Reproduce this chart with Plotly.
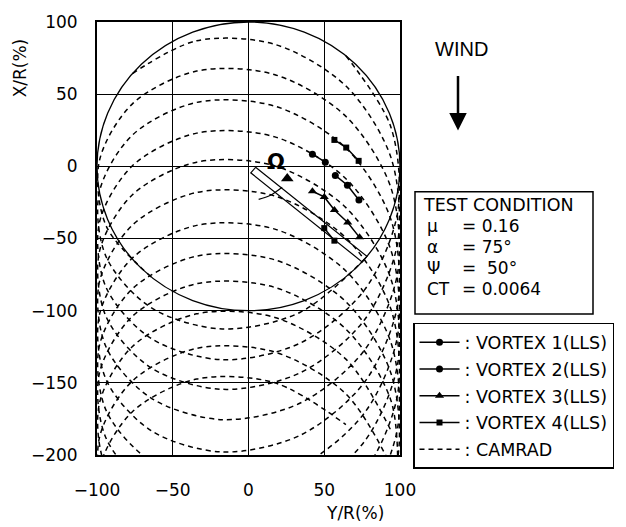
import plotly.graph_objects as go

# ---------------- data ----------------
TICKS_X = [-100, -50, 0, 50, 100]
TICKS_Y = [-200, -150, -100, -50, 0, 50, 100]
DISK_R = 100

# LLS measured vortex positions (Y/R %, X/R %)
v1_y = [42.2, 50.7]
v1_x = [8.4, 2.9]
v2_y = [57.3, 65.3, 72.9]
v2_x = [-6.3, -13.1, -23.3]
v3_y = [42.2, 50.0, 56.7, 65.5, 73.3]
v3_x = [-17.3, -21.2, -30.3, -38.9, -49.2]
v4_y = [56.7, 64.5, 72.7]
v4_x = [18.3, 13.0, 3.8]
v4b_y = [50.0, 56.7]
v4b_x = [-42.8, -51.5]

# CAMRAD tip-vortex traces, one per blade (Y/R %, X/R %)
camA_y = [76.6, 34.2, -17.4, -64.3, -94.0, -98.5, -76.6, -34.2, 17.4, 64.3, 94.0, 98.5,
          76.6, 34.2, -17.4, -64.3, -94.0, -98.5, -76.6, -34.2, 17.4, 64.3, 94.0, 98.5,
          76.6, 34.2, -17.4, -64.3, -94.0, -98.5, -76.6, -34.2, 17.4, 64.3, 94.0]
camA_x = [-64.3, -101.1, -112.7, -97.9, -62.6, -18.1, 21.7, 44.3, 41.7, 12.7, -36.8, -95.5,
          -149.5, -186.3, -197.9, -183.1, -147.8, -103.3, -63.5, -40.9, -43.5, -72.5, -122.0, -180.7,
          -234.7, -271.5, -283.1, -268.3, -233.0, -188.5, -148.7, -126.1, -128.7, -157.7, -207.2]
camB_y = [64.3, 94.0, 98.5, 76.6, 34.2, -17.4, -64.3, -94.0, -98.5, -76.6, -34.2, 17.4,
          64.3, 94.0, 98.5, 76.6, 34.2, -17.4, -64.3, -94.0, -98.5, -76.6, -34.2, 17.4,
          64.3, 94.0, 98.5, 76.6, 34.2, -17.4, -64.3, -94.0, -98.5, -76.6, -34.2, 17.4, 64.3]
camB_x = [76.6, 27.1, -31.6, -85.6, -122.4, -134.0, -119.2, -83.9, -39.4, 0.4, 23.0, 20.4,
          -8.6, -58.1, -116.8, -170.8, -207.6, -219.2, -204.4, -169.1, -124.6, -84.8, -62.2, -64.8,
          -93.8, -143.3, -202.0, -256.0, -292.8, -304.4, -289.6, -254.3, -209.8, -170.0, -147.4, -150.0, -179.0]
camC_y = [-76.6, -34.2, 17.4, 64.3, 94.0, 98.5, 76.6, 34.2, -17.4, -64.3, -94.0, -98.5,
          -76.6, -34.2, 17.4, 64.3, 94.0, 98.5, 76.6, 34.2, -17.4, -64.3, -94.0, -98.5,
          -76.6, -34.2, 17.4, 64.3, 94.0, 98.5]
camC_x = [64.3, 87.0, 84.5, 55.6, 6.2, -52.4, -106.3, -143.0, -154.5, -139.6, -104.2, -59.6,
          -19.7, 2.9, 0.3, -28.6, -78.0, -136.6, -190.5, -227.2, -238.7, -223.8, -188.4, -143.8,
          -103.9, -81.3, -83.9, -112.8, -162.2, -220.8]
camD_y = [-64.3, -94.0, -98.5, -76.6, -34.2, 17.4, 64.3, 94.0, 98.5, 76.6, 34.2, -17.4,
          -64.3, -94.0, -98.5, -76.6, -34.2, 17.4, 64.3, 94.0, 98.5, 76.6, 34.2, -17.4,
          -64.3, -94.0, -98.5, -76.6, -34.2, 17.4, 64.3, 94.0]
camD_x = [-76.6, -41.2, 3.4, 43.3, 66.0, 63.5, 34.6, -14.8, -73.4, -127.3, -164.0, -175.5,
          -160.6, -125.2, -80.6, -40.7, -18.1, -20.6, -49.5, -98.9, -157.5, -211.4, -248.1, -259.6,
          -244.7, -209.3, -164.7, -124.8, -102.2, -104.7, -133.6, -183.0]

# blade outline (Y, X) and rotation arrow
blade_y = [4.7, 78.2, 75.0, 1.5, 4.7]
blade_x = [-0.7, -62.4, -66.2, -4.5, -0.7]
rot_y = [6.7, 14.5, 22.2]
rot_x = [-22.9, -20.0, -14.5]
rot_head_y = [25.6]
rot_head_x = [-8.5]
omega_pos = (18.0, 3.0)

cond_labels = ["\u03bc", "\u03b1", "\u03a8", "CT"]
cond_values = ["= 0.16", "= 75\u00b0", "=  50\u00b0", "= 0.0064"]

# ---------------- layout helpers (pixel -> paper) ----------------
L, R, T, B = 97, 400, 16, 455
def pxx(p):
    return (p - L) / (R - L)
def pxy(p):
    return (B - p) / (B - T)

FONT = "DejaVu Sans"
fig = go.Figure()

cam_style = dict(color="black", width=1.5, dash="5px,4px", shape="spline", smoothing=0.9)
for i, (cy, cx) in enumerate([(camA_y, camA_x), (camB_y, camB_x), (camC_y, camC_x), (camD_y, camD_x)]):
    fig.add_trace(go.Scatter(x=cy, y=cx, mode="lines", line=cam_style,
                             name=": CAMRAD", legendgroup="cam", legendrank=5,
                             showlegend=(i == 0), hoverinfo="skip"))

fig.add_trace(go.Scatter(x=blade_y, y=blade_x, mode="lines", line=dict(color="black", width=1.2),
                         showlegend=False, hoverinfo="skip"))
fig.add_trace(go.Scatter(x=rot_y, y=rot_x, mode="lines", line=dict(color="black", width=1.2, shape="spline"),
                         showlegend=False, hoverinfo="skip"))
fig.add_trace(go.Scatter(x=rot_head_y, y=rot_head_x, mode="markers",
                         marker=dict(symbol="triangle-up", size=11, color="black"),
                         showlegend=False, hoverinfo="skip"))

vstyle = dict(color="black", width=1.5)
fig.add_trace(go.Scatter(x=v1_y, y=v1_x, mode="lines+markers", line=vstyle,
                         marker=dict(symbol="circle", size=7, color="black"),
                         name=": VORTEX 1(LLS)", legendgroup="v1", legendrank=1))
fig.add_trace(go.Scatter(x=v2_y, y=v2_x, mode="lines+markers", line=vstyle,
                         marker=dict(symbol="circle", size=7, color="black"),
                         name=": VORTEX 2(LLS)", legendgroup="v2", legendrank=2))
fig.add_trace(go.Scatter(x=v3_y, y=v3_x, mode="lines+markers", line=vstyle,
                         marker=dict(symbol="triangle-up", size=8, color="black"),
                         name=": VORTEX 3(LLS)", legendgroup="v3", legendrank=3))
fig.add_trace(go.Scatter(x=v4_y, y=v4_x, mode="lines+markers", line=vstyle,
                         marker=dict(symbol="square", size=6, color="black"),
                         name=": VORTEX 4(LLS)", legendgroup="v4", legendrank=4))
fig.add_trace(go.Scatter(x=v4b_y, y=v4b_x, mode="lines+markers", line=vstyle,
                         marker=dict(symbol="square", size=6, color="black"),
                         legendgroup="v4", showlegend=False))

axis_common = dict(showgrid=True, gridcolor="black", gridwidth=1.3, zeroline=False,
                   showline=True, linecolor="black", linewidth=2, mirror=True, ticks="",
                   tickfont=dict(family=FONT, size=17, color="black"), fixedrange=True)
fig.update_xaxes(range=[-100, 100], tickvals=TICKS_X, ticklabelstandoff=19, **axis_common)
fig.update_yaxes(range=[-200, 100], tickvals=TICKS_Y, ticklabelstandoff=14, **axis_common)

shapes = [
    dict(type="circle", xref="x", yref="y", x0=-DISK_R, y0=-DISK_R, x1=DISK_R, y1=DISK_R,
         line=dict(color="black", width=1.3), layer="above"),
    dict(type="rect", xref="paper", yref="paper", x0=pxx(415), x1=pxx(593), y0=pxy(312), y1=pxy(188),
         line=dict(color="black", width=1.5), fillcolor="white"),
]

def txt(text, x, y, size, family=FONT, xanchor="center", **kw):
    return dict(text=text, xref="paper", yref="paper", x=pxx(x), y=pxy(y), xanchor=xanchor,
                yanchor="middle", showarrow=False, font=dict(family=family, size=size, color="black"), **kw)

ann = [
    txt("X/R(%)", 20, 63, 17, textangle=-90),
    txt("Y/R(%)", 355, 514, 17),
    txt("WIND", 461, 43, 20, family="Liberation Sans"),
    dict(text="", xref="paper", yref="paper", x=pxx(458), y=pxy(126), ax=0, ay=-56,
         showarrow=True, arrowhead=2, arrowsize=1.4, arrowwidth=2.5, arrowcolor="black"),
    dict(text="<b>\u03a9</b>", x=omega_pos[0], y=omega_pos[1], xref="x", yref="y", showarrow=False,
         font=dict(family=FONT, size=21, color="black")),
    txt("TEST CONDITION", 421, 202, 17.5, xanchor="left"),
]
row_y = [223, 244, 265, 287]
for lab, val, ry in zip(cond_labels, cond_values, row_y):
    ann.append(txt(lab, 425, ry, 17, xanchor="left"))
    ann.append(txt(val, 460, ry, 17, xanchor="left"))

fig.update_layout(
    width=626, height=527, autosize=False,
    margin=dict(l=L, r=626 - R, t=T, b=527 - B),
    paper_bgcolor="white", plot_bgcolor="white",
    shapes=shapes, annotations=ann,
    legend=dict(x=pxx(413), y=pxy(321), xanchor="left", yanchor="top",
                bordercolor="black", borderwidth=1.5, bgcolor="white",
                font=dict(family=FONT, size=17.5, color="black"),
                tracegroupgap=1, itemwidth=40),
    showlegend=True,
)

fig.write_html("out.html")
